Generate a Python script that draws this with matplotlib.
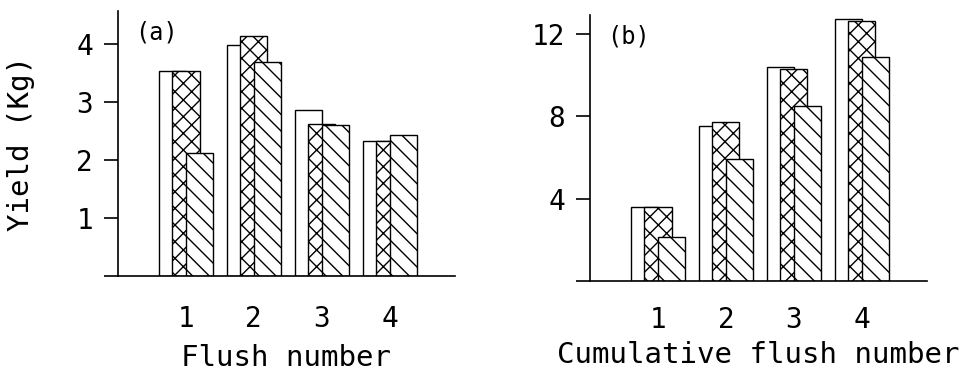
import matplotlib
matplotlib.use('Agg')
import matplotlib.pyplot as plt
import numpy as np

plt.rcParams['font.family'] = ['DejaVu Sans Mono']
plt.rcParams['hatch.linewidth'] = 1.0

flush = [1, 2, 3, 4]
tick_labels = ['1', '2', '3', '4']

# (a) yield per flush, three treatments
yield_open = [3.54, 3.99, 2.87, 2.33]
yield_cross = [3.54, 4.15, 2.62, 2.33]
yield_hatch = [2.13, 3.70, 2.61, 2.43]

# (b) cumulative yield
cum_open = [3.57, 7.53, 10.36, 12.70]
cum_cross = [3.57, 7.71, 10.27, 12.62]
cum_hatch = [2.15, 5.90, 8.48, 10.87]

fig = plt.figure(figsize=(9.6, 3.72), dpi=100)
ax1 = fig.add_axes([0.1229, 0.258, 0.351, 0.712])
ax2 = fig.add_axes([0.6146, 0.2446, 0.351, 0.715])

def draw(ax, a, b, c, yticks, ylim, label, xlabel, xpad, lpad):
    x = np.array(flush)
    w = 0.4
    ax.bar(x - 0.2, a, w, facecolor='white', edgecolor='black', linewidth=1)
    ax.bar(x, b, w, facecolor='white', edgecolor='black', linewidth=1, hatch='xx')
    ax.bar(x + 0.2, c, w, facecolor='white', edgecolor='black', linewidth=1, hatch='\\\\')
    ax.set_xlim(0, 4.96)
    ax.set_ylim(0, ylim)
    ax.spines['top'].set_visible(False)
    ax.spines['right'].set_visible(False)
    ax.spines['left'].set_linewidth(1.2)
    ax.spines['bottom'].set_linewidth(1.2)
    ax.set_xticks(x)
    ax.set_xticklabels(tick_labels)
    ax.set_yticks(yticks)
    ax.set_yticklabels(['' if v == 0 else str(v) for v in yticks])
    ax.tick_params(axis='x', length=0, pad=xpad, labelsize=20)
    ax.tick_params(axis='y', length=10, width=1.2, pad=8, labelsize=20)
    ax.set_xlabel(xlabel, fontsize=21, labelpad=lpad)
    ax.text(0.05, 0.92, label, transform=ax.transAxes, fontsize=17,
            ha='left', va='center')
    ax.patch.set_visible(False)

draw(ax1, yield_open, yield_cross, yield_hatch, [0, 1, 2, 3, 4], 4.57,
     '(a)', 'Flush number', 21, 8)
draw(ax2, cum_open, cum_cross, cum_hatch, [0, 4, 8, 12], 12.9,
     '(b)', 'Cumulative flush number', 18, 5)
ax1.set_ylabel('Yield (Kg)', fontsize=21, labelpad=30)

fig.savefig('out.png', dpi=100)
